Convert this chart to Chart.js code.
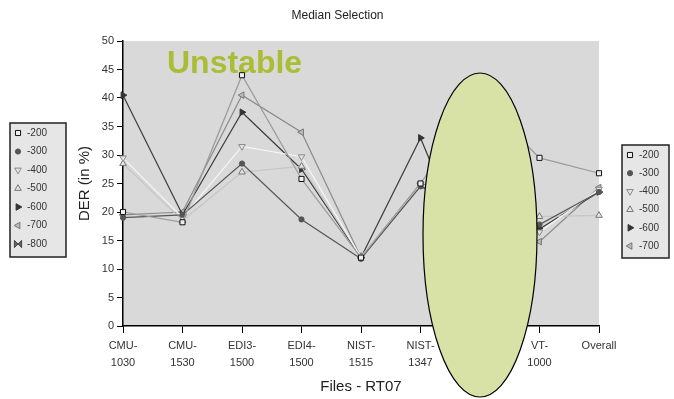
<!DOCTYPE html>
<html>
<head>
<meta charset="utf-8">
<script src="https://cdn.jsdelivr.net/npm/chart.js@4.4.1/dist/chart.umd.min.js"></script>
<style>
  body { margin: 0; background: #fff; }
  #wrap { width: 674px; height: 399px; position: relative; }
</style>
</head>
<body>
<div id="wrap"><canvas id="derChart"></canvas></div>
<script>
// files (x categories)
const categories = [
    ['CMU-', '1030'], ['CMU-', '1530'], ['EDI3-', '1500'], ['EDI4-', '1500'],
    ['NIST-', '1515'], ['NIST-', '1347'], ['VT-', '1500'], ['VT-', '1000'], ['Overall']
];
// DER (%) per threshold
const s200 = [20, 18.2, 44, 25.8, 12, 25, 40, 29.5, 26.8];
const s300 = [19, 19.5, 28.5, 18.7, 11.8, 24.5, 20, 17.8, 23.5];
const s400 = [29.5, 19, 31.5, 29.7, 12, 24.8, 21, 16.5, 24];
const s500 = [28.5, 18.5, 27, 28, 12.2, 24.5, 19.5, 19.2, 19.4];
const s600 = [40.5, 19.5, 37.5, 27.5, 12, 33, 8, 17, 23.5];
const s700 = [19.5, 20, 40.5, 34, 12, 25, 22, 14.8, 24.3];
const leftLegendLabels = ['-200', '-300', '-400', '-500', '-600', '-700', '-800'];
const rightLegendLabels = ['-200', '-300', '-400', '-500', '-600', '-700'];
const yTicks = [0, 5, 10, 15, 20, 25, 30, 35, 40, 45, 50];

const markers = [
    { pointStyle: 'rect', rotation: 0, radius: 3.6, fill: '#eeeeee', stroke: '#111', line: '#9a9a9a' },
    { pointStyle: 'circle', rotation: 0, radius: 2.6, fill: '#555', stroke: '#555', line: '#555555' },
    { pointStyle: 'triangle', rotation: 180, radius: 3.8, fill: '#e4e4e4', stroke: '#8a8a8a', line: '#f6f6f6' },
    { pointStyle: 'triangle', rotation: 0, radius: 3.8, fill: '#e4e4e4', stroke: '#777', line: '#c6c6c6' },
    { pointStyle: 'triangle', rotation: 90, radius: 3.8, fill: '#333', stroke: '#333', line: '#3c3c3c' },
    { pointStyle: 'triangle', rotation: -90, radius: 3.8, fill: '#bbb', stroke: '#777', line: '#8c8c8c' },
    { pointStyle: 'bowtie', rotation: 0, radius: 3.6, fill: '#666', stroke: '#444', line: '#777' }
];

const seriesData = [s200, s300, s400, s500, s600, s700];

function drawMarker(ctx, m, x, y) {
    ctx.save();
    ctx.fillStyle = m.fill;
    ctx.strokeStyle = m.stroke;
    ctx.lineWidth = 1;
    if (m.pointStyle === 'bowtie') {
        const r = m.radius;
        ctx.beginPath();
        ctx.moveTo(x - r, y - r); ctx.lineTo(x, y); ctx.lineTo(x - r, y + r); ctx.closePath();
        ctx.moveTo(x + r, y - r); ctx.lineTo(x, y); ctx.lineTo(x + r, y + r); ctx.closePath();
        ctx.fill(); ctx.stroke();
    } else {
        Chart.helpers.drawPoint(ctx, { pointStyle: m.pointStyle, rotation: m.rotation, radius: m.radius, borderWidth: 1 }, x, y);
    }
    ctx.restore();
}

function drawLegendBox(ctx, x, y, w, h, labels, rowStep) {
    ctx.save();
    ctx.fillStyle = '#e6e6e6';
    ctx.fillRect(x, y, w, h);
    ctx.strokeStyle = '#222';
    ctx.lineWidth = 1.5;
    ctx.strokeRect(x, y, w, h);
    ctx.font = '10px "Liberation Sans", Arial, sans-serif';
    ctx.fillStyle = '#333';
    ctx.textBaseline = 'middle';
    labels.forEach((lab, i) => {
        const yy = y + 10 + i * rowStep;
        drawMarker(ctx, markers[i], x + 8, yy);
        ctx.fillStyle = '#333';
        ctx.fillText(lab, x + 17, yy);
    });
    ctx.restore();
}

const decorPlugin = {
    id: 'decor',
    beforeDraw(chart) {
        const a = chart.chartArea;
        const ctx = chart.ctx;
        ctx.save();
        ctx.fillStyle = '#d9d9d9';
        ctx.fillRect(a.left, a.top, a.right - a.left, a.bottom - a.top);
        ctx.restore();
    },
    beforeDatasetsDraw(chart) {
        const ctx = chart.ctx;
        ctx.save();
        ctx.fillStyle = '#abbd35';
        ctx.font = 'bold 32px "Liberation Sans", Arial, sans-serif';
        ctx.textBaseline = 'alphabetic';
        ctx.fillText('Unstable', 167, 73);
        ctx.restore();
    },
    afterDraw(chart) {
        const ctx = chart.ctx;
        drawLegendBox(ctx, 10, 123, 56, 134, leftLegendLabels, 18.5);
        drawLegendBox(ctx, 622, 145, 47, 113, rightLegendLabels, 18.2);
        // highlight ellipse over the hidden file
        ctx.save();
        ctx.beginPath();
        ctx.ellipse(480, 235, 57, 162, 0, 0, Math.PI * 2);
        ctx.fillStyle = '#d9e2a6';
        ctx.fill();
        ctx.strokeStyle = '#000';
        ctx.lineWidth = 1.2;
        ctx.stroke();
        ctx.restore();
    }
};

const ctx = document.getElementById('derChart').getContext('2d');
const derChart = new Chart(ctx, {
    type: 'line',
    data: {
        labels: categories,
        datasets: seriesData.map((d, i) => ({
            label: rightLegendLabels[i],
            data: d,
            borderColor: markers[i].line,
            borderWidth: 1.2,
            pointStyle: markers[i].pointStyle,
            rotation: markers[i].rotation,
            pointRadius: markers[i].radius,
            pointBackgroundColor: markers[i].fill,
            pointBorderColor: markers[i].stroke,
            pointBorderWidth: 1,
            tension: 0,
            fill: false
        }))
    },
    options: {
        responsive: true,
        maintainAspectRatio: false,
        animation: false,
        layout: { padding: { left: 76, right: 75, top: 0, bottom: 3 } },
        plugins: {
            legend: { display: false },
            tooltip: { enabled: false },
            title: {
                display: true,
                text: 'Median Selection',
                color: '#222',
                font: { family: '"Liberation Sans", Arial, sans-serif', size: 12, weight: 'normal' },
                padding: { top: 8, bottom: 18.6 }
            }
        },
        scales: {
            x: {
                offset: false,
                grid: { drawOnChartArea: false, drawTicks: true, tickLength: 7, color: '#000' },
                border: { display: true, color: '#000', width: 1.5 },
                ticks: {
                    autoSkip: false, maxRotation: 0, padding: 5, color: '#333',
                    font: { family: '"Liberation Sans", Arial, sans-serif', size: 11, lineHeight: 1.5 }
                },
                title: {
                    display: true, text: 'Files - RT07', color: '#222',
                    font: { family: '"Liberation Sans", Arial, sans-serif', size: 15 },
                    padding: { top: 2, bottom: 0 }
                }
            },
            y: {
                min: 0, max: 50,
                afterBuildTicks(scale) { scale.ticks = yTicks.map(v => ({ value: v })); },
                afterFit(scale) { scale.width = 47; },
                grid: { drawOnChartArea: false, drawTicks: true, tickLength: 6, color: '#000' },
                border: { display: true, color: '#000', width: 1.5 },
                ticks: {
                    padding: 3, color: '#333',
                    font: { family: '"Liberation Sans", Arial, sans-serif', size: 11 }
                },
                title: {
                    display: true, text: 'DER (in %)', color: '#222',
                    font: { family: '"Liberation Sans", Arial, sans-serif', size: 15 },
                    padding: { top: 0, bottom: 0 }
                }
            }
        }
    },
    plugins: [decorPlugin]
});
</script>
</body>
</html>
